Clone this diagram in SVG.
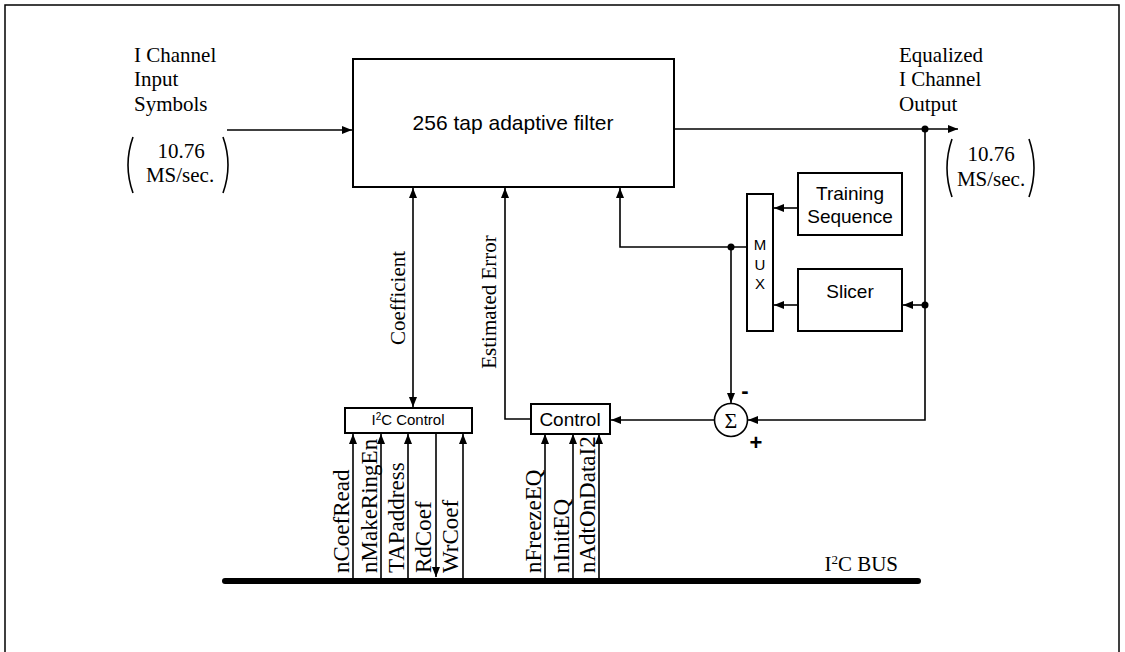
<svg xmlns="http://www.w3.org/2000/svg" width="1125" height="652" viewBox="0 0 1125 652">
<style>
.box{fill:#fff;stroke:#000;stroke-width:2}
.ln{fill:none;stroke:#000;stroke-width:1.6}
.tm{font-family:"Liberation Serif",serif;font-size:21px;fill:#000}
.vl{font-family:"Liberation Serif",serif;font-size:23px;fill:#000}
.ar{font-family:"Liberation Sans",sans-serif;fill:#000}
.par{fill:none;stroke:#000;stroke-width:1.6}
</style>
<defs>
<marker id="ah" viewBox="0 0 10 8" refX="10" refY="4" markerWidth="10" markerHeight="8" markerUnits="userSpaceOnUse" orient="auto-start-reverse">
<path d="M0,0 L10,4 L0,8 Z" fill="#000"/>
</marker>
</defs>
<rect x="5" y="5" width="1114" height="680" fill="none" stroke="#000" stroke-width="1.5"/>

<g id="input-label">
<text class="tm" x="134" y="62">I Channel</text>
<text class="tm" x="134" y="86">Input</text>
<text class="tm" x="134" y="111">Symbols</text>
<path class="par" d="M133,137 Q123,165 133,193"/>
<path class="par" d="M223,137 Q233,165 223,193"/>
<text class="tm" x="181" y="158" text-anchor="middle">10.76</text>
<text class="tm" x="180" y="182" text-anchor="middle">MS/sec.</text>
</g>

<g id="output-label">
<text class="tm" x="899" y="62">Equalized</text>
<text class="tm" x="899" y="86">I Channel</text>
<text class="tm" x="899" y="111">Output</text>
<path class="par" d="M952,139 Q942,168 952,197"/>
<path class="par" d="M1029,139 Q1039,168 1029,197"/>
<text class="tm" x="991" y="161" text-anchor="middle">10.76</text>
<text class="tm" x="991" y="186" text-anchor="middle">MS/sec.</text>
</g>

<g id="filter">
<rect class="box" x="353" y="59" width="321" height="128"/>
<text class="ar" x="513" y="130" font-size="21" text-anchor="middle">256 tap adaptive filter</text>
</g>

<g id="training">
<rect class="box" x="798" y="173" width="104" height="62"/>
<text class="ar" x="850" y="200" font-size="19" text-anchor="middle">Training</text>
<text class="ar" x="850" y="223" font-size="19" text-anchor="middle">Sequence</text>
</g>

<g id="slicer">
<rect class="box" x="798" y="269" width="104" height="62"/>
<text class="ar" x="850" y="298" font-size="19" text-anchor="middle">Slicer</text>
</g>

<g id="mux">
<rect class="box" x="747" y="194" width="26" height="137"/>
<text class="ar" x="760" y="250" font-size="15" text-anchor="middle">M</text>
<text class="ar" x="760" y="270" font-size="15" text-anchor="middle">U</text>
<text class="ar" x="760" y="289" font-size="15" text-anchor="middle">X</text>
</g>

<g id="sum">
<circle cx="731" cy="420" r="16.5" fill="#fff" stroke="#000" stroke-width="1.6"/>
<text x="731" y="428" font-family="Liberation Serif,serif" font-size="22" text-anchor="middle">Σ</text>
<text class="ar" x="745" y="398" font-size="22" font-weight="bold" text-anchor="middle">-</text>
<text class="ar" x="756" y="450" font-size="22" font-weight="bold" text-anchor="middle">+</text>
</g>

<g id="control">
<rect class="box" x="531" y="404" width="79" height="30"/>
<text class="ar" x="570" y="426" font-size="19" text-anchor="middle">Control</text>
</g>

<g id="i2c-control">
<rect class="box" x="345" y="408" width="127" height="25"/>
<text class="ar" x="408" y="425" font-size="15" text-anchor="middle">I<tspan font-size="10" dy="-5">2</tspan><tspan dy="5">C Control</tspan></text>
</g>

<g id="bus">
<line x1="225" y1="581" x2="918" y2="581" stroke="#000" stroke-width="6" stroke-linecap="round"/>
<text class="tm" x="898" y="571" text-anchor="end">I<tspan font-size="13" dy="-7">2</tspan><tspan dy="7">C BUS</tspan></text>
</g>

<g id="connectors">
<path class="ln" d="M227,130 H352" marker-end="url(#ah)"/>
<path class="ln" d="M674,129 H958" marker-end="url(#ah)"/>
<circle cx="925" cy="129" r="3.5"/>
<path class="ln" d="M925,129 V420 H748" marker-end="url(#ah)"/>
<circle cx="925" cy="305" r="3.5"/>
<path class="ln" d="M925,305 H903" marker-end="url(#ah)"/>
<path class="ln" d="M798,208 H774" marker-end="url(#ah)"/>
<path class="ln" d="M798,305 H774" marker-end="url(#ah)"/>
<path class="ln" d="M747,247 H620 V188" marker-end="url(#ah)"/>
<circle cx="731" cy="247" r="3.5"/>
<path class="ln" d="M731,247 V403" marker-end="url(#ah)"/>
<path class="ln" d="M714,420 H611" marker-end="url(#ah)"/>
<path class="ln" d="M531,419 H505 V188" marker-end="url(#ah)"/>
<path class="ln" d="M413,188 V407" marker-start="url(#ah)" marker-end="url(#ah)"/>
<path class="ln" d="M353,578 V434" marker-end="url(#ah)"/>
<path class="ln" d="M381,578 V434" marker-end="url(#ah)"/>
<path class="ln" d="M408,578 V434" marker-end="url(#ah)"/>
<path class="ln" d="M436,434 V577" marker-end="url(#ah)"/>
<path class="ln" d="M463,578 V434" marker-end="url(#ah)"/>
<path class="ln" d="M545,578 V434" marker-end="url(#ah)"/>
<path class="ln" d="M573,578 V434" marker-end="url(#ah)"/>
<path class="ln" d="M599,578 V434" marker-end="url(#ah)"/>
</g>

<g id="labels">
<text class="tm" transform="translate(405,298) rotate(-90)" text-anchor="middle">Coefficient</text>
<text class="tm" font-size="22" transform="translate(496,302) rotate(-90)" text-anchor="middle">Estimated Error</text>
<text class="vl" transform="translate(349,573) rotate(-90)">nCoefRead</text>
<text class="vl" transform="translate(377,573) rotate(-90)">nMakeRingEn</text>
<text class="vl" transform="translate(404,573) rotate(-90)">TAPaddress</text>
<text class="vl" transform="translate(431,573) rotate(-90)">RdCoef</text>
<text class="vl" transform="translate(458,573) rotate(-90)">WrCoef</text>
<text class="vl" transform="translate(541,573) rotate(-90)">nFreezeEQ</text>
<text class="vl" transform="translate(569,573) rotate(-90)">nInitEQ</text>
<text class="vl" transform="translate(595,573) rotate(-90)">nAdtOnDataI2</text>
</g>
</svg>
